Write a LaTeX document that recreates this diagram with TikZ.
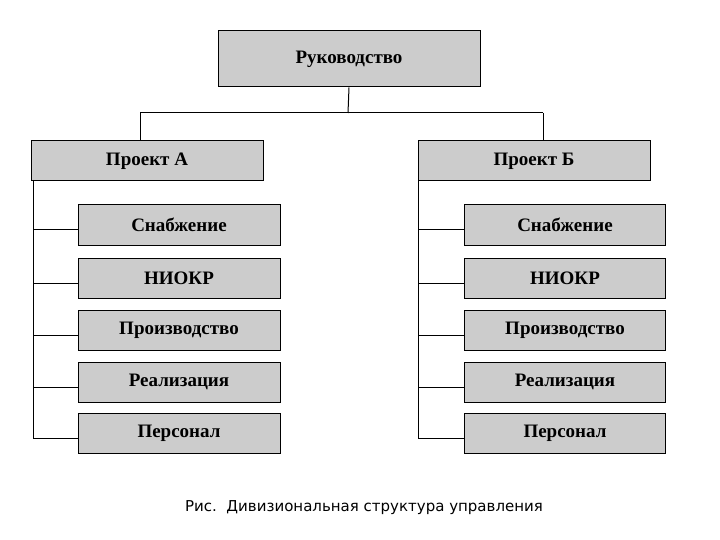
\documentclass[tikz,border=0pt]{standalone}
\usepackage{fontspec}
\setmainfont{Liberation Serif}
\newfontfamily\capfont{DejaVu Sans}
\begin{document}
\begin{tikzpicture}[x=1pt,y=-1pt,
  box/.style={draw=black,line width=1pt,fill=gray!40,inner sep=0pt,font=\bfseries\fontsize{19}{22}\selectfont},
  ln/.style={line width=1pt}]
\useasboundingbox (0,0) rectangle (720,540);
\node[box,minimum width=262,minimum height=56] (top) at (349,59) {Руководство};
\node[box,minimum width=232,minimum height=40] (pa) at (147,161) {Проект А};
\node[box,minimum width=232,minimum height=40] (pb) at (534,161) {Проект Б};
\coordinate (j) at (348,113);
\draw[ln] (top.south) -- (j);
\draw[ln] (140,113) -- (543,113);
\draw[ln] (140,113) -- (140,141);
\draw[ln] (543,113) -- (543,141);
\foreach \t/\y [count=\i] in {Снабжение/225,НИОКР/278,Производство/330,Реализация/382,Персонал/433}{
  \node[box,minimum width=202,minimum height=40] (l\i) at (179,\y) {\t};
  \node[box,minimum width=201,minimum height=40] (r\i) at (565,\y) {\t};
  \draw[ln] (33,\y+5) -- (l\i.west |- 0,\y+5);
  \draw[ln] (418,\y+5) -- (r\i.west |- 0,\y+5);
}
\draw[ln] (33,181) -- (33,438);
\draw[ln] (418,181) -- (418,438);
\node[font=\capfont\fontsize{15}{18}\selectfont] (cap) at (364,508) {Рис.\ \ Дивизиональная структура управления};
\end{tikzpicture}
\end{document}
